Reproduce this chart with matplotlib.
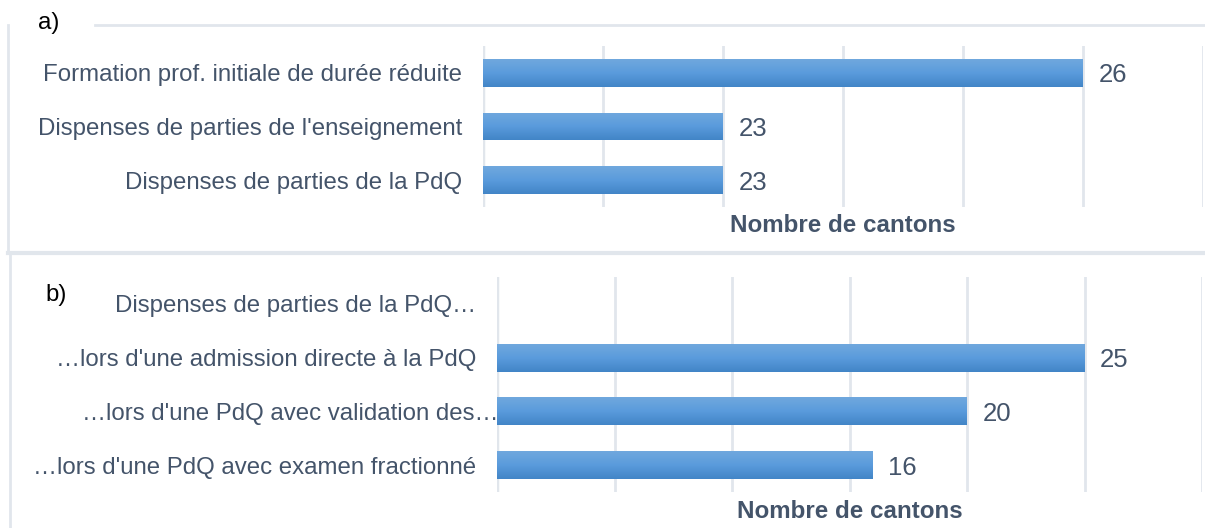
import matplotlib
matplotlib.use("Agg")
import matplotlib.pyplot as plt
import numpy as np
from matplotlib.colors import LinearSegmentedColormap
from matplotlib.lines import Line2D

plt.rcParams['font.family'] = ['Liberation Sans', 'DejaVu Sans']

# ---- data ----
cats_a = ["Formation prof. initiale de durée réduite",
          "Dispenses de parties de l'enseignement",
          "Dispenses de parties de la PdQ"]
vals_a = [26, 23, 23]
xlim_a = (21, 27)
xticks_a = [21, 22, 23, 24, 25, 26, 27]

cats_b = ["Dispenses de parties de la PdQ…",
          "…lors d'une admission directe à la PdQ",
          "…lors d'une PdQ avec validation des…",
          "…lors d'une PdQ avec examen fractionné"]
vals_b = [None, 25, 20, 16]
xlim_b = (0, 30)
xticks_b = [0, 5, 10, 15, 20, 25, 30]

panel_labels = ["a)", "b)"]
xlabel = "Nombre de cantons"

# ---- style ----
TXT = "#44546a"
GRID = "#e1e6ec"
BORDER = "#e1e6ec"
FS = 17.3
grad = LinearSegmentedColormap.from_list("g", ["#70a8de", "#5a9bdc", "#4285c7"])

fig = plt.figure(figsize=(12.05, 5.28), dpi=100)

def draw_panel(ax, cats, vals, xlim, xticks, label_pads, xlabel_pad):
    n = len(cats)
    ax.set_xlim(*xlim)
    ax.set_ylim(n - 0.5, -0.5)
    ax.set_xticks(xticks)
    ax.set_yticks([])
    ax.tick_params(axis='x', length=0, labelbottom=False)
    ax.grid(axis='x', color=GRID, linewidth=2)
    ax.set_axisbelow(True)
    for s in ax.spines.values():
        s.set_visible(False)
    ax.axvline(xlim[0], color=GRID, linewidth=2.5, zorder=0.5)
    for i, (c, v) in enumerate(zip(cats, vals)):
        ax.annotate(c, xy=(0, i), xycoords=ax.get_yaxis_transform(),
                    xytext=(-label_pads[i], 0), textcoords='offset points',
                    ha='right', va='center_baseline', fontsize=FS, color=TXT,
                    annotation_clip=False)
        if v is None:
            continue
        bars = ax.barh([i], [v - xlim[0]], left=xlim[0], height=0.52,
                       color="#5b9bd5", zorder=2)
        bar = bars[0]
        x0, y0 = bar.get_x(), bar.get_y()
        w, h = bar.get_width(), bar.get_height()
        gimg = np.linspace(0, 1, 64).reshape(-1, 1)
        im = ax.imshow(gimg, cmap=grad, aspect='auto',
                       extent=(x0, x0 + w, y0 + h, y0), origin='upper',
                       zorder=2.5, interpolation='bilinear')
        im.set_clip_path(bar)
        ax.annotate(f"{v}", xy=(v, i), xytext=(11, 0),
                    textcoords='offset points', ha='left',
                    va='center_baseline', fontsize=FS + 1.2, color=TXT)
    ax.set_xlabel(xlabel, fontsize=FS + 0.1, fontweight='bold', color=TXT,
                  labelpad=xlabel_pad)
    ax.set_ylim(n - 0.5, -0.5)
    ax.set_xlim(*xlim)

ax_a = fig.add_axes([483 / 1205, 1 - 207 / 528, 720 / 1205, 161 / 528])
draw_panel(ax_a, cats_a, vals_a, xlim_a, xticks_a, [15, 15, 15], 5)

ax_b = fig.add_axes([497 / 1205, 1 - 492 / 528, 705 / 1205, 215 / 528])
draw_panel(ax_b, cats_b, vals_b, xlim_b, xticks_b, [15, 15, -1, 15], 6)

# panel frames
def fl(xs, ys, lw=2):
    fig.add_artist(Line2D(np.array(xs) / 1205, 1 - np.array(ys) / 528,
                          color=BORDER, linewidth=lw))

fl([95, 1205], [25, 25])
fl([8, 8], [25, 253])
fl([8, 1205], [252.5, 252.5], lw=3)
fl([10, 10], [255, 528])

fig.text(38 / 1205, 1 - 23 / 528, panel_labels[0], fontsize=FS, color="black",
         ha='left', va='center')
fig.text(45 / 1205, 1 - 295 / 528, panel_labels[1], fontsize=FS, color="black",
         ha='left', va='center')

fig.savefig("out.png", dpi=100)
